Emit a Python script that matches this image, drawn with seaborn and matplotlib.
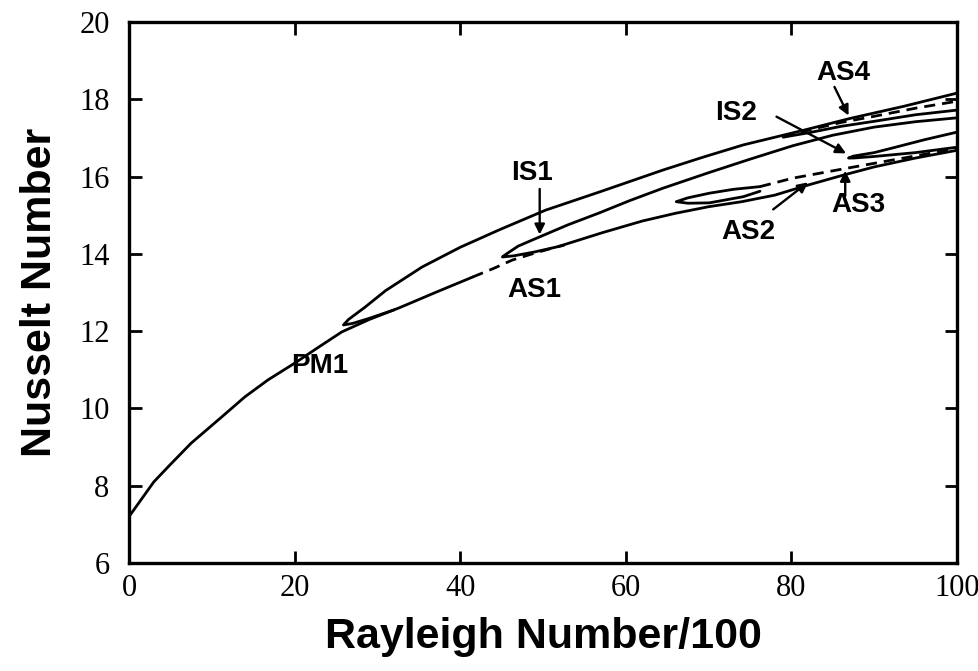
import matplotlib
matplotlib.use("Agg")
import matplotlib.pyplot as plt
import seaborn as sns
import pandas as pd

# ---------------- data ----------------
# PM1 main branch: solid part, dashed part (AS1), solid continuation
pm1_x = [0, 1, 3, 5, 7.5, 11.2, 14, 16.8, 20, 23, 25.7, 29, 32.6, 37, 41.5]
pm1_y = [7.2, 7.5, 8.1, 8.55, 9.1, 9.78, 10.3, 10.74, 11.17, 11.6, 11.98, 12.3, 12.6, 13.0, 13.4]
as1_x = [41.5, 44, 46.3, 49, 52]
as1_y = [13.4, 13.62, 13.84, 14.02, 14.2]
low_x = [52, 57.2, 62, 66, 70, 74, 78, 82, 86.3, 90, 95, 100]
low_y = [14.2, 14.55, 14.85, 15.05, 15.22, 15.35, 15.52, 15.78, 16.04, 16.25, 16.48, 16.68]

# upper branch folding at Ra/100 ~ 26
up_x = [32, 29, 27, 25.9, 26.5, 28.5, 31, 35.4, 40, 44.7, 50.3, 56.8, 64.5, 69.3, 74.2, 81.5, 87, 93.6, 100]
up_y = [12.55, 12.33, 12.2, 12.16, 12.3, 12.62, 13.05, 13.66, 14.17, 14.62, 15.13, 15.6, 16.17, 16.5, 16.82, 17.2, 17.5, 17.82, 18.16]

# IS1 branch folding at ~45
is1_x = [52.5, 49, 46.5, 45.1, 45.6, 47, 49.6, 53, 56.8, 60.5, 64.5, 70, 75, 80.2, 85, 90, 95, 100]
is1_y = [14.22, 14.05, 13.95, 13.92, 14.0, 14.2, 14.44, 14.75, 15.06, 15.38, 15.7, 16.1, 16.45, 16.8, 17.07, 17.28, 17.42, 17.52]

# AS2 loop and its dashed continuation (AS2 / AS3)
as2_x = [76.2, 74.2, 70.1, 67.5, 66.1, 67.5, 70.1, 73, 76.2]
as2_y = [15.62, 15.48, 15.32, 15.31, 15.35, 15.45, 15.57, 15.67, 15.74]
as3_x = [76.2, 80.2, 86.3, 92, 97.2, 100]
as3_y = [15.74, 15.96, 16.2, 16.42, 16.62, 16.72]

# IS2 branch folding at ~87
is2_x = [100, 95, 90, 87.5, 86.9, 87.5, 90, 92.4, 96, 100]
is2_y = [16.76, 16.62, 16.52, 16.48, 16.48, 16.53, 16.62, 16.75, 16.95, 17.15]

# AS4 thin loop near the top branch
as4d_x = [79, 82, 86, 90, 95, 100]
as4d_y = [17.02, 17.2, 17.4, 17.56, 17.77, 17.95]
as4s_x = [79, 82, 86, 90, 95, 100]
as4s_y = [17.02, 17.13, 17.3, 17.43, 17.6, 17.72]

x_ticks = [0, 20, 40, 60, 80, 100]
y_ticks = [6, 8, 10, 12, 14, 16, 18, 20]

# labels: (text, label x, label y)
labels = [("PM1", 23.0, 11.1), ("AS1", 49.0, 13.06), ("IS1", 48.7, 16.1),
          ("AS2", 74.8, 14.57), ("AS3", 88.1, 15.26), ("IS2", 73.3, 17.64),
          ("AS4", 86.3, 18.68)]
# arrows: (tail x, tail y, head x, head y)
arrows = [(49.6, 15.68, 49.6, 14.5), (77.8, 15.15, 82.0, 15.85),
          (86.5, 15.5, 86.5, 16.15), (78.2, 17.55, 86.6, 16.6),
          (85.2, 18.32, 86.9, 17.58)]

# ---------------- figure ----------------
sns.set_theme(style="ticks", rc={"text.color": "black", "axes.labelcolor": "black",
                                 "xtick.color": "black", "ytick.color": "black",
                                 "axes.edgecolor": "black"})
plt.rcParams["font.family"] = ["Liberation Sans", "DejaVu Sans"]

W, H = 979, 671
fig = plt.figure(figsize=(W / 100, H / 100), dpi=100)
ax = fig.add_axes([129 / W, 1 - 563 / H, (957 - 129) / W, (563 - 22) / H])

lw = 2.0
def draw(xs, ys, dashed=False):
    df = pd.DataFrame({"x": xs, "y": ys})
    kw = dict(color="black", linewidth=lw, sort=False, estimator=None, ax=ax)
    if dashed:
        kw["linestyle"] = (0, (4, 2.5))
    sns.lineplot(data=df, x="x", y="y", **kw)

draw(pm1_x, pm1_y)
draw(as1_x, as1_y, dashed=True)
draw(low_x, low_y)
draw(up_x, up_y)
draw(is1_x, is1_y)
draw(as2_x, as2_y)
draw(as3_x, as3_y, dashed=True)
draw(is2_x, is2_y)
draw(as4d_x, as4d_y, dashed=True)
draw(as4s_x, as4s_y)

ax.set_xlim(0, 100)
ax.set_ylim(6, 20)
ax.set_xticks(x_ticks)
ax.set_yticks(y_ticks)
ax.set_xticklabels([str(t) for t in x_ticks], fontfamily="Liberation Serif", fontsize=22)
ax.set_yticklabels([str(t) for t in y_ticks], fontfamily="Liberation Serif", fontsize=22)
ax.tick_params(direction="in", length=9, width=2, top=True, right=True, colors="black")
ax.tick_params(axis="x", pad=8)
ax.tick_params(axis="y", pad=14)
for s in ax.spines.values():
    s.set_visible(True)
    s.set_linewidth(2.4)
    s.set_color("black")

ax.set_xlabel("Rayleigh Number/100", fontsize=31, fontweight="bold", labelpad=10)
ax.set_ylabel("Nusselt Number", fontsize=31, fontweight="bold", labelpad=14)

# annotations
tkw = dict(fontsize=20, fontweight="bold", ha="center", va="center")
for txt, lx, ly in labels:
    ax.text(lx, ly, txt, **tkw)
akw = dict(arrowstyle="-|>", color="black", lw=1.7, mutation_scale=15, shrinkA=0, shrinkB=0)
for tx, ty, hx, hy in arrows:
    ax.annotate("", xy=(hx, hy), xytext=(tx, ty), arrowprops=akw)

fig.savefig("out.png", dpi=100, facecolor="white")
